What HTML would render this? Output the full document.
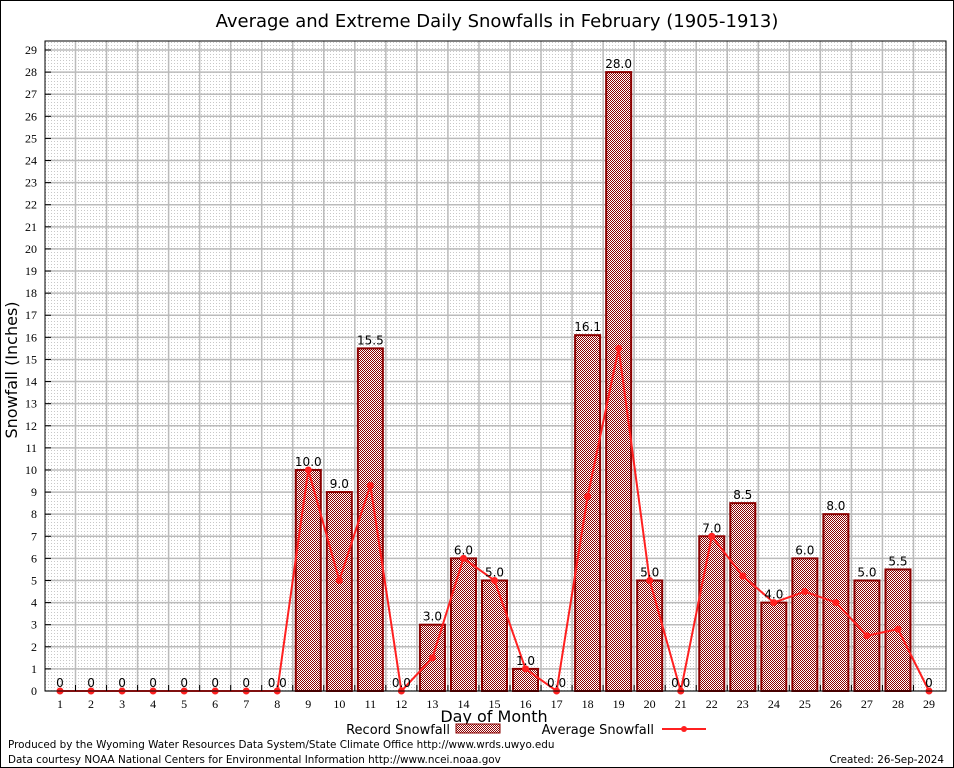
<!DOCTYPE html>
<html><head><meta charset="utf-8"><style>
body{margin:0;background:#fff;}
svg{display:block;font-family:"DejaVu Sans","Liberation Sans",sans-serif;}
</style></head><body>
<svg id="chart" width="954" height="768" viewBox="0 0 954 768">
<defs>
<pattern id="dots" width="3" height="3" patternUnits="userSpaceOnUse"><rect x="0" y="0" width="1" height="1" fill="#c8c8c8"/></pattern>
<pattern id="hatch" width="2" height="2" patternUnits="userSpaceOnUse"><rect width="2" height="2" fill="#fff"/><rect x="0" y="0" width="1" height="1" fill="#8b0000"/><rect x="1" y="1" width="1" height="1" fill="#8b0000"/></pattern>
</defs>
<rect x="0.5" y="0.5" width="953" height="767" fill="#fff" stroke="#000"/>
<text x="497" y="27" font-size="18" text-anchor="middle">Average and Extreme Daily Snowfalls in February (1905-1913)</text>
<rect x="45" y="41" width="901" height="650" fill="url(#dots)"/>
<g id="grid"></g>
<g id="bars"></g>
<g id="avg"></g>
<g id="labels" font-size="12" text-anchor="middle"></g>
<g id="axes" font-family="Liberation Serif,serif" font-size="12"></g>
<rect x="45" y="41" width="901" height="650" fill="none" stroke="#000"/>
<text transform="translate(17,370) rotate(-90)" font-size="16" text-anchor="middle">Snowfall (Inches)</text>
<text x="494" y="722" font-size="16" text-anchor="middle">Day of Month</text>
<g font-size="13">
<text x="450" y="734" text-anchor="end">Record Snowfall</text>
<rect x="456" y="724" width="44" height="9" fill="url(#hatch)" stroke="#8b0000"/>
<text x="654" y="734" text-anchor="end">Average Snowfall</text>
<line x1="662" y1="729" x2="706" y2="729" stroke="#ff2020" stroke-width="2"/>
<circle cx="684" cy="729" r="3" fill="#ff2020"/>
</g>
<text x="8" y="748" font-size="10.4">Produced by the Wyoming Water Resources Data System/State Climate Office http://www.wrds.uwyo.edu</text>
<text x="8" y="763" font-size="10.4">Data courtesy NOAA National Centers for Environmental Information http://www.ncei.noaa.gov</text>
<text x="944" y="763" font-size="10.4" text-anchor="end">Created: 26-Sep-2024</text>
</svg>
<script>
const days=[1,2,3,4,5,6,7,8,9,10,11,12,13,14,15,16,17,18,19,20,21,22,23,24,25,26,27,28,29];
const record=[0,0,0,0,0,0,0,0,10.0,9.0,15.5,0,3.0,6.0,5.0,1.0,0,16.1,28.0,5.0,0,7.0,8.5,4.0,6.0,8.0,5.0,5.5,0];
const recordLabels=["0","0","0","0","0","0","0","0.0","10.0","9.0","15.5","0.0","3.0","6.0","5.0","1.0","0.0","16.1","28.0","5.0","0.0","7.0","8.5","4.0","6.0","8.0","5.0","5.5","0"];
const average=[0,0,0,0,0,0,0,0,10.0,5.0,9.3,0,1.5,6.0,5.0,1.0,0,8.8,15.5,5.0,0,7.0,5.2,4.0,4.5,4.0,2.5,2.8,0];
const yTicks=[0,1,2,3,4,5,6,7,8,9,10,11,12,13,14,15,16,17,18,19,20,21,22,23,24,25,26,27,28,29];
const NS="http://www.w3.org/2000/svg";
const X=d=>60+(d-1)*(929-60)/28;
const Y=v=>691-v*(691-50)/29;
function mk(tag,attrs,parent){const e=document.createElementNS(NS,tag);for(const k in attrs)e.setAttribute(k,attrs[k]);document.getElementById(parent).appendChild(e);return e;}
yTicks.forEach(t=>{
  const l=mk('line',{x1:45,x2:946,y1:Y(t),y2:Y(t),stroke:'#bbb','stroke-width':1.5},'grid');
  
  
  const tk=mk('line',{x1:45,x2:51,y1:Y(t),y2:Y(t),stroke:'#000'},'axes');
  
  
  const tx=mk('text',{x:37,y:Y(t)+4,'text-anchor':'end'},'axes');tx.textContent=t;
  
  
});
days.forEach((d,i)=>{
  const gx=X(d)+15.5;
  if(i<days.length-1){const l=mk('line',{x1:gx,x2:gx,y1:41,y2:691,stroke:'#bbb','stroke-width':1.5},'grid');
  
  
  const tk=mk('line',{x1:gx,x2:gx,y1:685,y2:691,stroke:'#000'},'axes');
  
  }
  const tx=mk('text',{x:X(d),y:708,'text-anchor':'middle'},'axes');tx.textContent=d;
  
  
  if(record[i]>0){const b=mk('rect',{x:X(d)-12.5,y:Y(record[i]),width:25,height:691-Y(record[i]),fill:'url(#hatch)',stroke:'#8b0000','stroke-width':2},'bars');
  
  }
  const lb=mk('text',{x:X(d),y:Y(record[i])-4},'labels');lb.textContent=recordLabels[i];
  
  
});
const pts=days.map((d,i)=>X(d)+','+Y(average[i])).join(' ');
const pl=mk('polyline',{points:pts,fill:'none',stroke:'#ff2020','stroke-width':2},'avg');


days.forEach((d,i)=>{const c=mk('circle',{cx:X(d),cy:Y(average[i]),r:3.5,fill:'#ff2020'},'avg');

});
</script>
</body></html>
